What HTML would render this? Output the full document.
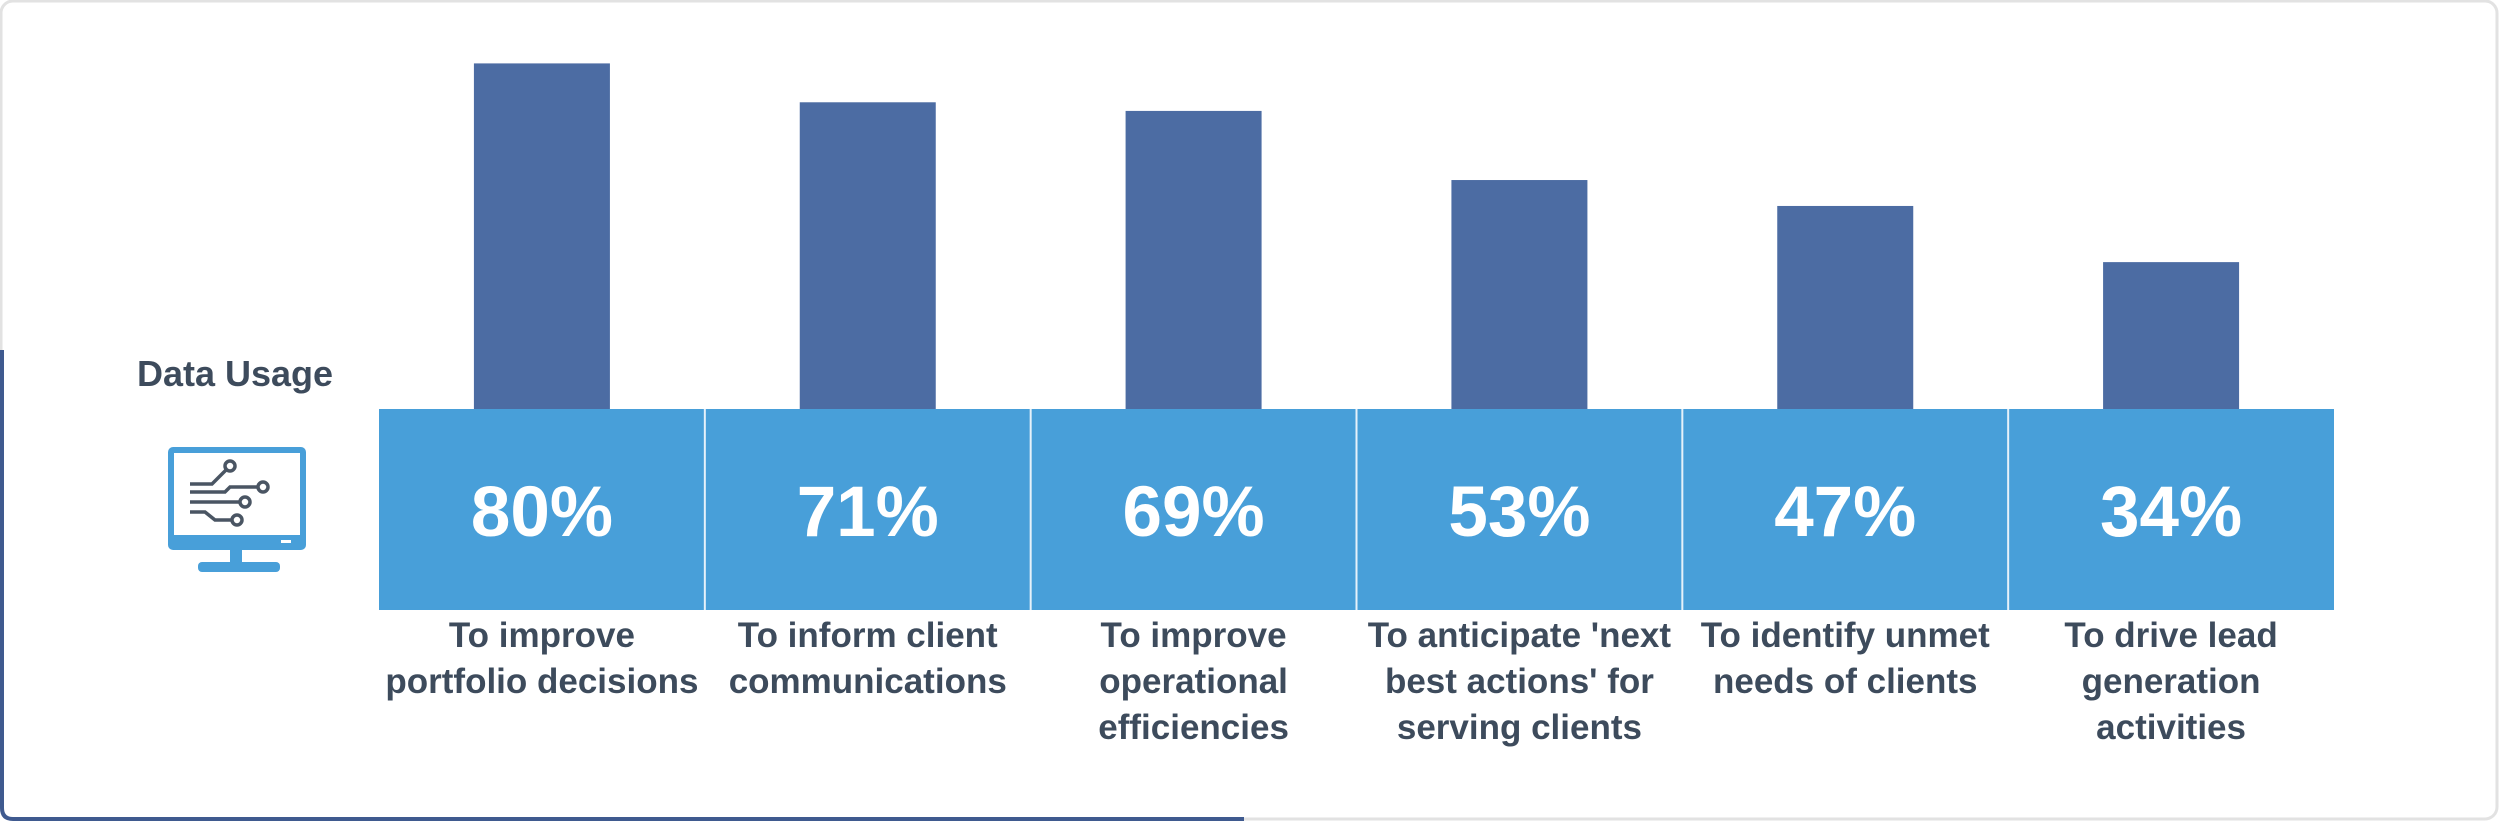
<!DOCTYPE html>
<html><head><meta charset="utf-8"><style>
html,body{margin:0;padding:0;background:#fff;}
body{width:2502px;height:822px;position:relative;overflow:hidden;font-family:"Liberation Sans",sans-serif;}
</style></head><body>
<svg id="chart" width="2502" height="822" xmlns="http://www.w3.org/2000/svg" style="position:absolute;left:0;top:0">
  <rect x="1" y="1" width="2496" height="818" rx="12" fill="#fff" stroke="#e2e2e2" stroke-width="3"/>
  <path d="M2 350 L2 808 Q2 819 13 819 L1244 819" fill="none" stroke="#3f5a8f" stroke-width="4"/>
  <text x="235" y="386" text-anchor="middle" font-size="36" font-weight="bold" fill="#3d4b5c">Data Usage</text>
  <g>
    <rect x="168" y="447" width="138" height="103" rx="5" fill="#489fd9"/>
    <rect x="174" y="453" width="126" height="82" fill="#fff"/>
    <rect x="281" y="540" width="10" height="3" fill="#fff"/>
    <rect x="230" y="550" width="12" height="14" fill="#489fd9"/>
    <rect x="198" y="562" width="82" height="10" rx="4" fill="#489fd9"/>
    <g stroke="#4a5563" stroke-width="3.5" fill="none">
      <path d="M190 484 H212 L226 470"/><circle cx="230" cy="466" r="5"/>
      <path d="M190 492 H225 L230 487 H258"/><circle cx="263" cy="487" r="5"/>
      <path d="M190 502 H240"/><circle cx="245" cy="502" r="5"/>
      <path d="M190 512 H205 L215 520 H232"/><circle cx="237" cy="520" r="5"/>
    </g>
  </g>
  <g id="bars"></g>
</svg>
<script>
const categories = [
  ["To improve","portfolio decisions"],
  ["To inform client","communications"],
  ["To improve","operational","efficiencies"],
  ["To anticipate 'next","best actions' for","serving clients"],
  ["To identify unmet","needs of clients"],
  ["To drive lead","generation","activities"]
];
const values = [80, 71, 69, 53, 47, 34];
const valueLabels = ["80%", "71%", "69%", "53%", "47%", "34%"];

const NS = "http://www.w3.org/2000/svg";
const g = document.getElementById("bars");
const x0 = 379, x1 = 2334, base = 409, boxBottom = 610;
const cellW = (x1 - x0) / values.length;
const barW = 136;
function xCenter(i){ return x0 + cellW * (i + 0.5); }
function yScale(v){ return base - v * 4.32; }

function mk(tag, attrs){
  const el = document.createElementNS(NS, tag);
  for (const k in attrs) el.setAttribute(k, attrs[k]);
  g.appendChild(el);
  return el;
}

const box = mk("rect", {x: x0, y: base, width: x1 - x0, height: boxBottom - base, fill: "#489fd9"});



values.forEach((v, i) => {
  const cx = xCenter(i);
  const bar = mk("rect", {x: cx - barW/2, y: yScale(v), width: barW, height: base - yScale(v), fill: "#4c6ca3"});
  
  
  if (i > 0) {
    const d = mk("rect", {x: x0 + cellW * i - 1, y: base, width: 2, height: boxBottom - base, fill: "#e6f1fa"});
    
    
  }
  const t = mk("text", {x: cx, y: 536, "text-anchor": "middle", "font-size": 71, "font-weight": "bold", fill: "#fff"});
  t.textContent = valueLabels[i];
  
  
  categories[i].forEach((line, j) => {
    const l = mk("text", {x: cx, y: 647 + j * 46, "text-anchor": "middle", "font-size": 35, "font-weight": "bold", fill: "#3d4b5c"});
    l.textContent = line;
    
    
  });
});
</script>
</body></html>
